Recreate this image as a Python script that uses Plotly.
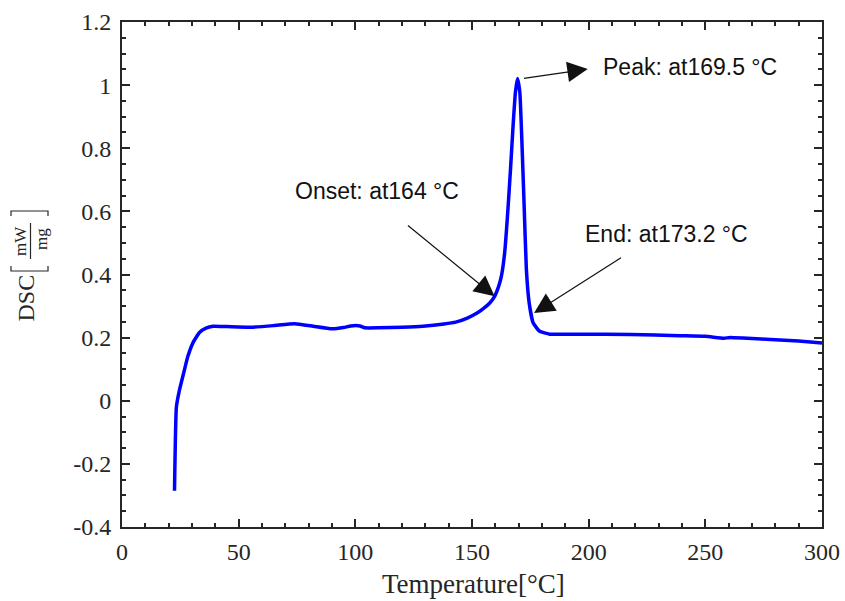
import plotly.graph_objects as go

# ---- data ----
temperature = [22.5, 23.3, 24.5, 26.5, 28.2, 30.5, 33.2, 36, 39, 45, 55, 65, 74, 82, 90, 95, 98,
               102, 104, 110, 120, 129, 138, 143, 148, 152, 154.7, 157.5, 159.7, 161.3, 162.6,
               164.0, 165.4, 166.5, 167.6, 168.6, 169.5, 170.5, 171.3, 172.3, 173.3, 174.5,
               176.2, 179.0, 183.3, 196, 218, 239, 250, 258, 260, 262, 270, 278, 290, 300]
dsc = [-0.285, -0.02, 0.03, 0.09, 0.14, 0.185, 0.216, 0.23, 0.236, 0.235, 0.233, 0.238, 0.244,
       0.236, 0.228, 0.232, 0.237, 0.237, 0.231, 0.231, 0.233, 0.236, 0.243, 0.249, 0.262,
       0.277, 0.291, 0.309, 0.331, 0.36, 0.395, 0.469, 0.606, 0.733, 0.871, 0.977, 1.021,
       0.977, 0.839, 0.628, 0.416, 0.31, 0.247, 0.22, 0.211, 0.211, 0.21, 0.206, 0.204, 0.198,
       0.2, 0.2, 0.197, 0.194, 0.189, 0.183]

x_ticks = [0, 50, 100, 150, 200, 250, 300]
x_tick_labels = ["0", "50", "100", "150", "200", "250", "300"]
y_ticks = [-0.4, -0.2, 0, 0.2, 0.4, 0.6, 0.8, 1.0, 1.2]
y_tick_labels = ["-0.4", "-0.2", "0", "0.2", "0.4", "0.6", "0.8", "1", "1.2"]

# annotations: label, text position, arrow head, arrow tail
ann_labels = ["Onset: at164 °C", "Peak: at169.5 °C", "End: at173.2 °C"]
ann_text_x = [73.2, 205.1, 197.6]
ann_text_y = [0.664, 1.057, 0.527]
arrow_head_x = [159.7, 199.6, 176.6]
arrow_head_y = [0.331, 1.051, 0.278]
arrow_tail_x = [121.9, 171.6, 214.5]
arrow_tail_y = [0.559, 1.021, 0.456]

# ---- layout geometry (pixels) ----
W, H = 845, 601
L, R, T, B = 122, 822, 22, 527


def px(xp):
    return (xp - L) / (R - L)


def py(yp):
    return (B - yp) / (B - T)


fig = go.Figure()
fig.add_trace(go.Scatter(x=temperature, y=dsc, mode="lines",
                         line=dict(color="#0000FF", width=3.5, shape="spline", smoothing=0.4),
                         hoverinfo="skip", showlegend=False))

serif = "Liberation Serif, Times New Roman, serif"
sans = "Liberation Sans, Arial, sans-serif"

axis_common = dict(showline=True, linecolor="#262626", linewidth=2, mirror="allticks",
                   ticks="inside", ticklen=8, tickwidth=2, tickcolor="#262626",
                   showgrid=False, zeroline=False, automargin=False,
                   tickfont=dict(family=serif, size=24, color="#262626"))

fig.update_xaxes(range=[0, 300], tickvals=x_ticks, ticktext=x_tick_labels,
                 minor=dict(ticks="inside", ticklen=4, tickwidth=1.5, tickcolor="#262626",
                            dtick=10, showgrid=False),
                 ticklabelstandoff=2, **axis_common)
fig.update_yaxes(range=[-0.4, 1.2], tickvals=y_ticks, ticktext=y_tick_labels,
                 minor=dict(ticks="inside", ticklen=4, tickwidth=1.5, tickcolor="#262626",
                            dtick=0.05, tick0=0, showgrid=False),
                 ticklabelstandoff=4, **axis_common)

annotations = []
for lab, tx, ty in zip(ann_labels, ann_text_x, ann_text_y):
    annotations.append(dict(x=tx, y=ty, xref="x", yref="y", text=lab, showarrow=False,
                            xanchor="left", yanchor="middle",
                            font=dict(family=sans, size=23, color="#111111")))
for hx, hy, tx, ty in zip(arrow_head_x, arrow_head_y, arrow_tail_x, arrow_tail_y):
    annotations.append(dict(x=hx, y=hy, ax=tx, ay=ty, xref="x", yref="y", axref="x", ayref="y",
                            text="", showarrow=True, arrowhead=2, arrowsize=3.4,
                            arrowwidth=1.2, arrowcolor="#111111"))

# x axis title
annotations.append(dict(x=px(473), y=py(584), xref="paper", yref="paper",
                        text="Temperature[°C]", showarrow=False,
                        xanchor="center", yanchor="middle",
                        font=dict(family=serif, size=27, color="#262626")))
# y axis title: DSC [ mW / mg ]
annotations.append(dict(x=px(25.5), y=py(298), xref="paper", yref="paper", text="DSC",
                        showarrow=False, textangle=-90, xanchor="center", yanchor="middle",
                        font=dict(family=serif, size=24, color="#262626")))
annotations.append(dict(x=px(20), y=py(241), xref="paper", yref="paper", text="mW",
                        showarrow=False, textangle=-90, xanchor="center", yanchor="middle",
                        font=dict(family=serif, size=17, color="#262626")))
annotations.append(dict(x=px(41), y=py(239), xref="paper", yref="paper", text="mg",
                        showarrow=False, textangle=-90, xanchor="center", yanchor="middle",
                        font=dict(family=serif, size=17, color="#262626")))

shapes = [
    # fraction bar
    dict(type="line", xref="paper", yref="paper", x0=px(30.5), x1=px(30.5), y0=py(223),
         y1=py(259), line=dict(color="#262626", width=1.2)),
    # left bracket (bottom)
    dict(type="path", xref="paper", yref="paper",
         path=f"M {px(11)},{py(266)} L {px(11)},{py(271)} L {px(48)},{py(271)} L {px(48)},{py(266)}",
         line=dict(color="#262626", width=1.2)),
    # right bracket (top)
    dict(type="path", xref="paper", yref="paper",
         path=f"M {px(11)},{py(216)} L {px(11)},{py(211)} L {px(48)},{py(211)} L {px(48)},{py(216)}",
         line=dict(color="#262626", width=1.2)),
]

fig.update_layout(width=W, height=H, margin=dict(l=L, r=W - R, t=T, b=H - B),
                  paper_bgcolor="white", plot_bgcolor="white",
                  annotations=annotations, shapes=shapes, showlegend=False)

fig.write_html("out.html", config={"displayModeBar": False},
               post_script="document.body.style.margin='0';document.body.style.overflow='hidden';")
